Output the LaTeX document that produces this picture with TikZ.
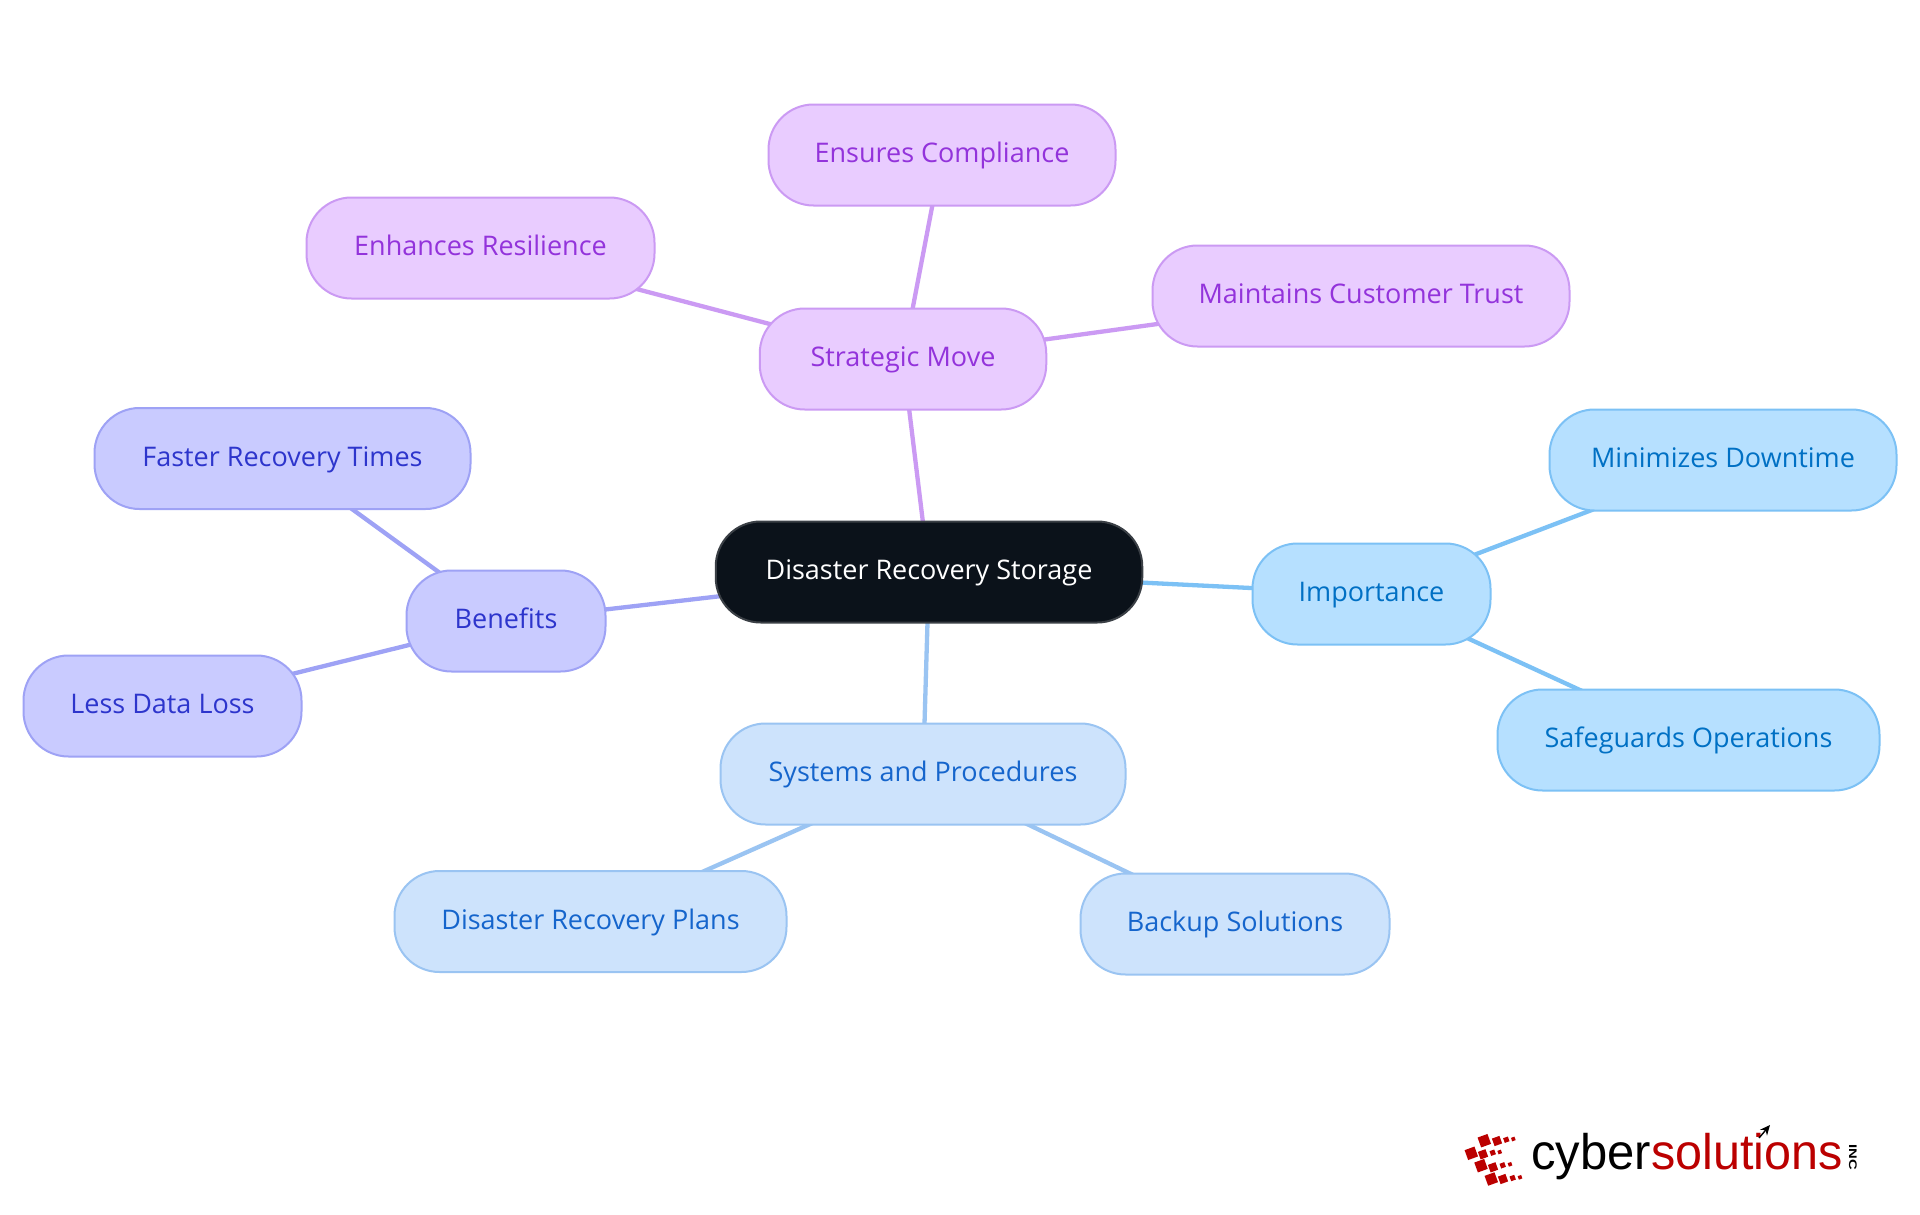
\documentclass[tikz,border=0pt]{standalone}
\usepackage{fontspec}
\setmainfont{Open Sans}
\newfontfamily\logofont{Liberation Sans}
\usetikzlibrary{backgrounds,arrows.meta}
\definecolor{pfill}{HTML}{E9CCFF}\definecolor{pline}{HTML}{CB9AF3}\definecolor{ptext}{HTML}{9333DB}
\definecolor{sfill}{HTML}{B6E0FF}\definecolor{sline}{HTML}{7CC1F5}\definecolor{stext}{HTML}{0070C4}
\definecolor{bfill}{HTML}{CDE3FC}\definecolor{bline}{HTML}{9AC4F2}\definecolor{btext}{HTML}{1565CC}
\definecolor{ifill}{HTML}{C9CBFF}\definecolor{iline}{HTML}{9EA2F5}\definecolor{itext}{HTML}{2D35CC}
\definecolor{rootfill}{HTML}{0B121A}\definecolor{rootline}{HTML}{3A3F45}
\definecolor{logored}{HTML}{BB0000}
\tikzset{
  pill/.style={rectangle,rounded corners=45pt,line width=2pt,minimum height=101pt,inner sep=0pt,
    text height=21.6pt,text depth=6pt,font=\fontsize{27}{32}\selectfont},
  pnode/.style={pill,draw=pline,fill=pfill,text=ptext},
  snode/.style={pill,draw=sline,fill=sfill,text=stext},
  bnode/.style={pill,draw=bline,fill=bfill,text=btext},
  inode/.style={pill,draw=iline,fill=ifill,text=itext},
  rootnode/.style={pill,draw=rootline,fill=rootfill,text=white,text height=20.6pt},
  edge/.style={line width=4.3pt},
  sq/.style={fill=logored},
}
\newcommand{\logosq}[3]{\fill[sq,rotate around={20:(#1,#2)}] (#1-#3/2,#2-#3/2) rectangle (#1+#3/2,#2+#3/2);}
\begin{document}
\begin{tikzpicture}[x=1pt,y=-1pt]
\useasboundingbox (0,0) rectangle (1920,1215);
\node[rootnode,minimum width=426.5pt] (root) at (929,572) {Disaster Recovery Storage};
\node[pnode,minimum width=286.5pt] (strategic) at (903,359) {Strategic Move};
\node[pnode,minimum width=347pt] (ensures) at (942,155) {Ensures Compliance};
\node[pnode,minimum width=348pt] (enhances) at (480.5,248) {Enhances Resilience};
\node[pnode,minimum width=417pt] (maintains) at (1361,296) {Maintains Customer Trust};
\node[snode,minimum width=238pt] (importance) at (1371.5,594) {Importance};
\node[snode,minimum width=347pt] (minimizes) at (1723,460) {Minimizes Downtime};
\node[snode,minimum width=382pt] (safeguards) at (1688.5,740) {Safeguards Operations};
\node[bnode,minimum width=405pt] (systems) at (923,774) {Systems and Procedures};
\node[bnode,minimum width=392pt] (plans) at (590.5,921.5) {Disaster Recovery Plans};
\node[bnode,minimum width=309pt] (backup) at (1235,924) {Backup Solutions};
\node[inode,minimum width=199pt] (benefits) at (506,621) {Benefits};
\node[inode,minimum width=376pt] (faster) at (282.5,458.5) {Faster Recovery Times};
\node[inode,minimum width=278pt] (less) at (162.5,706) {Less Data Loss};
\begin{scope}[on background layer]
\fill[white] (0,0) rectangle (1920,1215);
\draw[edge,pline] (root.center) -- (strategic.center);
\draw[edge,pline] (strategic.center) -- (ensures.center);
\draw[edge,pline] (strategic.center) -- (enhances.center);
\draw[edge,pline] (strategic.center) -- (maintains.center);
\draw[edge,sline] (root.center) -- (importance.center);
\draw[edge,sline] (importance.center) -- (minimizes.center);
\draw[edge,sline] (importance.center) -- (safeguards.center);
\draw[edge,bline] (root.center) -- (systems.center);
\draw[edge,bline] (systems.center) -- (plans.center);
\draw[edge,bline] (systems.center) -- (backup.center);
\draw[edge,iline] (root.center) -- (benefits.center);
\draw[edge,iline] (benefits.center) -- (faster.center);
\draw[edge,iline] (benefits.center) -- (less.center);
\end{scope}
% logo
\logosq{1484.3}{1140.7}{10.5}\logosq{1497}{1141}{8}\logosq{1506.3}{1139.7}{5}\logosq{1513.3}{1139}{3.7}
\logosq{1471.3}{1153.3}{10.5}\logosq{1483}{1154.3}{8}\logosq{1492.7}{1152.7}{5}\logosq{1499.7}{1152}{3.7}
\logosq{1481}{1165.7}{10.5}\logosq{1493}{1167.3}{8}\logosq{1502.7}{1165.3}{5}\logosq{1510}{1164.3}{3.7}
\logosq{1491.3}{1179}{10.5}\logosq{1503}{1179}{8}\logosq{1512.7}{1178}{5}\logosq{1520}{1177.3}{3.7}
\node[anchor=base west,inner sep=0pt,text=black,font=\logofont\fontsize{50}{50}\selectfont] (cyber) at (1531,1169) {\scalebox{.98}[1]{cyber}};
\node[anchor=base west,inner sep=0pt,text=logored,font=\logofont\fontsize{50}{50}\selectfont] (solutions) at (1651,1169) {\scalebox{.97}[1]{solutions}};
\node[rotate=-90,inner sep=0pt,text=black,font=\logofont\bfseries\fontsize{11}{11}\selectfont] (inc) at (1853,1157) {\scalebox{1.35}[1]{INC}};
\coordinate (arrowtail) at (1759,1138);
\coordinate (arrowtip) at (1770,1125);
\draw[-{Stealth[length=10pt,width=9pt]},line width=1.4pt,black] (arrowtail) -- (arrowtip);
\end{tikzpicture}
\end{document}
